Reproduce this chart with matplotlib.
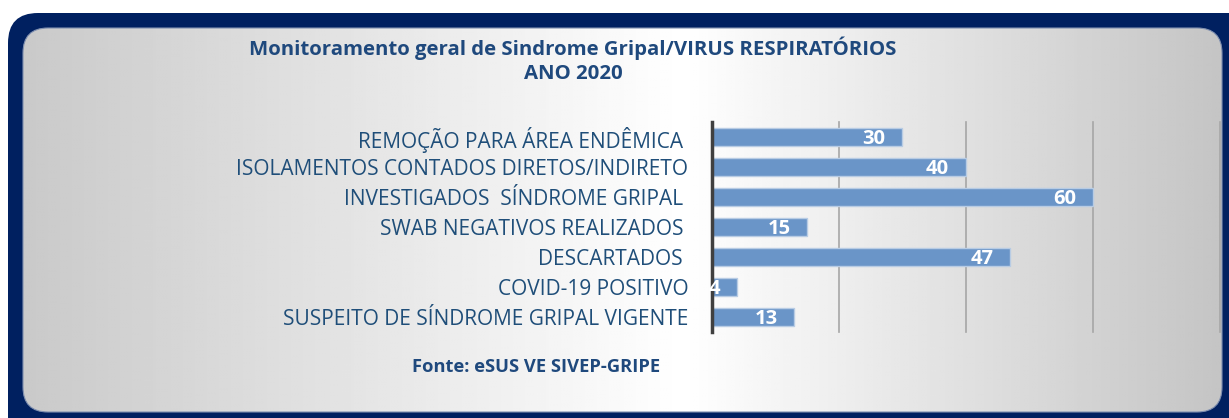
import numpy as np
import matplotlib
matplotlib.use("Agg")
import matplotlib.pyplot as plt
from matplotlib.patches import FancyBboxPatch

categorias = ["REMOÇÃO PARA ÁREA ENDÊMICA ", "ISOLAMENTOS CONTADOS DIRETOS/INDIRETO",
              "INVESTIGADOS  SÍNDROME GRIPAL ", "SWAB NEGATIVOS REALIZADOS ",
              "DESCARTADOS ", "COVID-19 POSITIVO", "SUSPEITO DE SÍNDROME GRIPAL VIGENTE"]
valores = [30, 40, 60, 15, 47, 4, 13]
grade = [20, 40, 60, 80]
titulo = "Monitoramento geral de Sindrome Gripal/VIRUS RESPIRATÓRIOS\nANO 2020"
fonte = "Fonte: eSUS VE SIVEP-GRIPE"

plt.rcParams['font.family'] = ['Open Sans', 'DejaVu Sans']
W, H = 1229, 418
fig = plt.figure(figsize=(W / 100, H / 100), dpi=100)
fig.patch.set_facecolor("white")

# fundo com moldura
bg = fig.add_axes([0, 0, 1, 1])
bg.set_xlim(0, W)
bg.set_ylim(H, 0)
bg.axis("off")
moldura = FancyBboxPatch((8 + 30, 13 + 30), 1260 - 60, 440 - 60,
                         boxstyle="round,pad=30", fc="#002060", ec="none")
bg.add_patch(moldura)
interno = FancyBboxPatch((23 + 25, 28 + 25), 1199 - 50, 384 - 50,
                         boxstyle="round,pad=25", fc="none", ec="#8090b0", lw=0.8)
bg.add_patch(interno)
xs = np.linspace(0, 1, 400)
g = np.interp(xs, [0, 0.55, 1], [0.79, 1.0, 0.77])
grad = np.tile(g, (50, 1))
img = bg.imshow(grad, cmap="gray", vmin=0, vmax=1, extent=[23, 1222, 412, 28],
                aspect="auto", zorder=1)
img.set_clip_path(interno)
interno.set_zorder(2)

fig.text(573 / W, 1 - 60 / H, titulo, ha="center", va="center", color="#1F497D",
         fontsize=14.7, fontweight="bold", linespacing=1.25)
fig.text(536 / W, 1 - 367 / H, fonte, ha="center", va="center", color="#1F497D",
         fontsize=13.2, fontweight="bold")

ax = fig.add_axes([712 / W, (H - 332) / H, (1219.5 - 712) / W, (332 - 122) / H])
ax.set_zorder(3)
ax.patch.set_alpha(0)
y = np.arange(len(categorias))
ax.barh(y, valores, height=0.6, color="#6A95C8", edgecolor="#B8CCE4", lw=1, zorder=3)
ax.set_xlim(0, 80)
ax.set_ylim(len(categorias) - 0.5, -0.5)
for gx in grade:
    ax.axvline(gx, color="#A6A6A6", lw=1.2, zorder=1, clip_on=False)
ax.set_xticks([])
ax.tick_params(axis="y", length=0, pad=17, labelsize=15, labelcolor="#1F4E79")
ax.set_yticks(y)
ax.set_yticklabels(categorias)
for s in ["top", "right", "bottom"]:
    ax.spines[s].set_visible(False)
ax.spines["left"].set_color("#404040")
ax.spines["left"].set_linewidth(2.5)
ax.spines["left"].set_zorder(4)
for yi, v in zip(y, valores):
    ax.annotate(str(v), (v, yi), xytext=(-12, -1.5), textcoords="offset points",
                ha="right", va="center", color="white", fontsize=14.5,
                fontweight="bold", zorder=5)

fig.savefig("out.png", dpi=100)
